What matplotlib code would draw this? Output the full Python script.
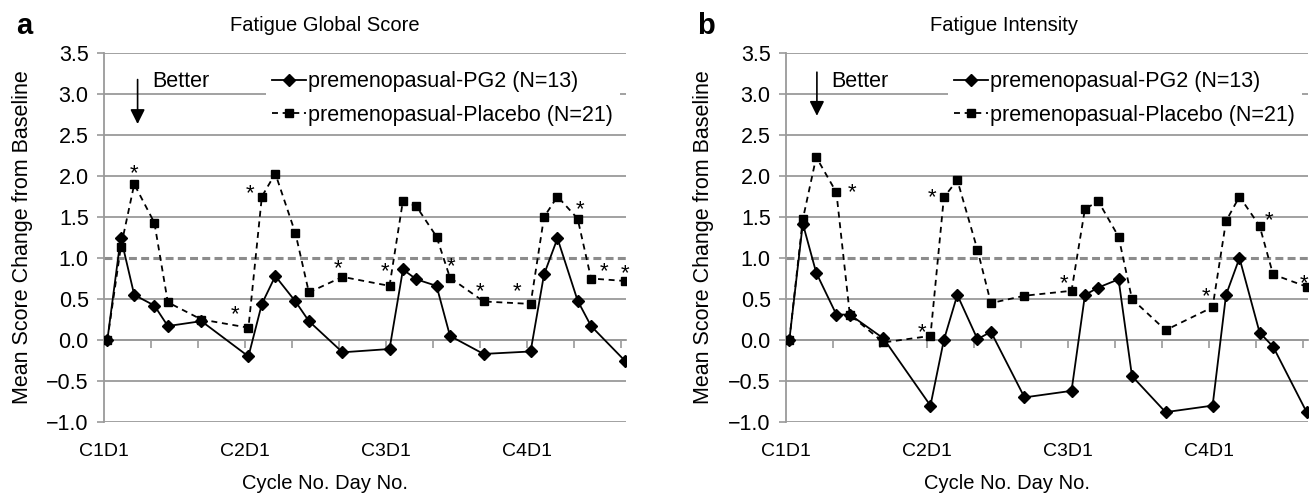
import numpy as np
import matplotlib.pyplot as plt

plt.rcParams['font.family'] = ['Liberation Sans', 'DejaVu Sans']

# study day of each assessment (C1D1 = day 1, 21-day cycles)
days = [1, 3, 5, 8, 10, 15, 22, 24, 26, 29, 31, 36,
        43, 45, 47, 50, 52, 57, 64, 66, 68, 71, 73, 78]
cycle_labels = ['C1D1', 'C2D1', 'C3D1', 'C4D1']
cycle_days = [1, 22, 43, 64]

# a: fatigue global score
pg2_global = [0.0, 1.25, 0.55, 0.42, 0.17, 0.23, -0.20, 0.44, 0.78, 0.47, 0.23, -0.15,
              -0.11, 0.86, 0.74, 0.66, 0.05, -0.17, -0.14, 0.80, 1.24, 0.48, 0.17, -0.25]
placebo_global = [0.0, 1.13, 1.90, 1.43, 0.46, 0.25, 0.15, 1.75, 2.03, 1.30, 0.58, 0.77,
                  0.66, 1.70, 1.63, 1.26, 0.76, 0.47, 0.44, 1.50, 1.75, 1.48, 0.75, 0.72]
star_x_global = [5.0, 22.3, 20.0, 35.4, 42.3, 52.2, 56.5, 62.0, 71.4, 74.9, 78.0]
star_y_global = [2.11, 1.86, 0.39, 0.95, 0.91, 0.98, 0.67, 0.67, 1.67, 0.91, 0.89]

# b: fatigue intensity
pg2_intensity = [0.0, 1.42, 0.82, 0.31, 0.31, 0.02, -0.80, 0.0, 0.55, 0.01, 0.10, -0.70,
                 -0.62, 0.55, 0.64, 0.74, -0.44, -0.88, -0.80, 0.55, 1.00, 0.09, -0.08, -0.88]
placebo_intensity = [0.0, 1.47, 2.23, 1.80, 0.31, -0.03, 0.05, 1.74, 1.95, 1.10, 0.45, 0.54,
                     0.60, 1.60, 1.69, 1.26, 0.50, 0.12, 0.40, 1.45, 1.75, 1.39, 0.80, 0.65]
star_x_intensity = [10.4, 22.3, 20.7, 41.9, 63.0, 72.4, 77.6]
star_y_intensity = [1.88, 1.81, 0.17, 0.77, 0.61, 1.54, 0.77]

yticks = np.arange(-1.0, 3.51, 0.5)
grey = '#9a9a9a'


def panel(ax, pg2, placebo, sx, sy, arrow_x, arrow_top, arrow_tip, better_x):
    ax.set_xlim(0.5, 78.2)
    ax.set_ylim(-1.0, 3.5)
    ax.plot(days, pg2, color='black', lw=1.3, marker='D', ms=6.5,
            label='premenopasual-PG2 (N=13)', zorder=4)
    ax.plot(days, placebo, color='black', lw=1.3, ls=(0, (3.3, 2.6)), marker='s', ms=5.5,
            label='premenopasual-Placebo (N=21)', zorder=3)
    ax.axhline(1.0, color='#8c8c8c', lw=2.2, ls=(0, (2.6, 1.4)), zorder=1.5)
    for x, y in zip(sx, sy):
        ax.text(x, y - 0.08, '*', ha='center', va='center', fontsize=16)

    ax.annotate('', xy=(arrow_x, arrow_tip), xytext=(arrow_x, arrow_top),
                arrowprops=dict(arrowstyle='-|>', color='black', lw=1.2, mutation_scale=22))
    ax.text(better_x, 3.15, 'Better', ha='left', va='center', fontsize=15.5)

    # y axis + grid
    ax.set_yticks(yticks)
    ax.yaxis.set_major_formatter(lambda v, pos: f'{v:.1f}'.replace('-', '\u2212'))
    ax.grid(axis='y', color=grey, lw=1.3)
    for t, g in zip(yticks, ax.get_ygridlines()):
        if np.isclose(t, 1.0):
            g.set_visible(False)
    ax.set_axisbelow(True)
    ax.tick_params(axis='y', direction='out', length=5, width=1.2, color=grey,
                   labelsize=15.5, pad=6)

    # x axis crosses at 0, labels at the bottom
    for s in ['top', 'right']:
        ax.spines[s].set_visible(False)
    ax.spines['left'].set_color(grey)
    ax.spines['left'].set_linewidth(1.3)
    ax.spines['bottom'].set_position(('data', 0))
    ax.spines['bottom'].set_color(grey)
    ax.spines['bottom'].set_linewidth(1.3)
    ax.set_xticks(np.arange(0.5, 78, 7))
    ax.tick_params(axis='x', direction='out', length=6, width=1.2, color=grey,
                   labelbottom=False)
    sec = ax.secondary_xaxis(0)
    sec.set_xticks([d - 0.5 for d in cycle_days], cycle_labels)
    sec.spines['bottom'].set_visible(False)
    sec.tick_params(length=0, labelsize=14, pad=15)

    ax.legend(loc='upper left', bbox_to_anchor=(0.31, 0.968), frameon=True, fancybox=False,
              edgecolor='none', facecolor='white', framealpha=1, fontsize=15.5,
              handlelength=1.55, handletextpad=0.12, labelspacing=0.58, borderpad=0.3,
              borderaxespad=0)


fig = plt.figure(figsize=(13.09, 4.99), dpi=100)
ax_a = fig.add_axes([104 / 1309, 77 / 499, 522 / 1309, 369 / 499])
ax_b = fig.add_axes([786 / 1309, 77 / 499, 522 / 1309, 369 / 499])

panel(ax_a, pg2_global, placebo_global, star_x_global, star_y_global, 5.5, 3.21, 2.6, 7.7)
panel(ax_b, pg2_intensity, placebo_intensity, star_x_intensity, star_y_intensity, 5.1, 3.3, 2.7, 7.3)

fig.text(325 / 1309, 0.948, 'Fatigue Global Score', ha='center', va='center', fontsize=14.5)
fig.text(1004 / 1309, 0.948, 'Fatigue Intensity', ha='center', va='center', fontsize=14.5)
fig.text(24 / 1309, 0.948, 'a', ha='center', va='center', fontsize=21, fontweight='bold')
fig.text(706 / 1309, 0.948, 'b', ha='center', va='center', fontsize=21, fontweight='bold')
for xc in [23, 703]:
    fig.text(xc / 1309, 0.524, 'Mean Score Change from Baseline', rotation=90,
             ha='center', va='center', fontsize=15.5)
fig.text(325 / 1309, 0.032, 'Cycle No. Day No.', ha='center', va='center', fontsize=14.5)
fig.text(1007 / 1309, 0.032, 'Cycle No. Day No.', ha='center', va='center', fontsize=14.5)

fig.savefig('out.png', dpi=100)
